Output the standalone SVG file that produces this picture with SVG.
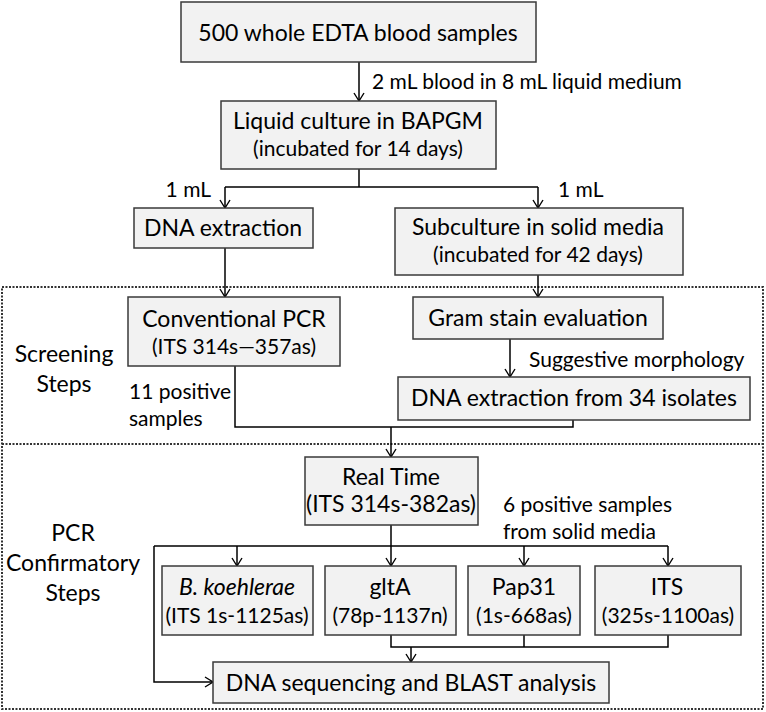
<svg xmlns="http://www.w3.org/2000/svg" width="766" height="712" viewBox="0 0 766 712">
<defs>
<marker id="ah" markerWidth="12" markerHeight="12" refX="10" refY="6" orient="auto" markerUnits="userSpaceOnUse">
<path d="M2,1 L10,6 L2,11" fill="none" stroke="#000" stroke-width="1.4"/>
</marker>
<style>
.box{fill:#f2f2f2;stroke:#3a3a3a;stroke-width:1.5}
.t{font-family:Lato,"Liberation Sans",sans-serif;font-size:23px;fill:#000;text-anchor:middle}
.s{font-size:21px}
.l{font-family:Lato,"Liberation Sans",sans-serif;font-size:21px;fill:#000}
.c{fill:none;stroke:#000;stroke-width:1.5}
.a{fill:none;stroke:#000;stroke-width:1.5;marker-end:url(#ah)}
.frame{fill:none;stroke:#333;stroke-width:2;stroke-dasharray:2 1.5}
</style>
</defs>
<rect width="766" height="712" fill="#fff"/>
<g id="frames">
<rect class="frame" x="2" y="287" width="761" height="422"/>
<line class="frame" x1="2" y1="444" x2="763" y2="444"/>
</g>
<g id="connectors">
<line class="a" x1="359" y1="62" x2="359" y2="101"/>
<path class="c" d="M359,169 V187 M225,187 H538"/>
<line class="a" x1="225" y1="187" x2="225" y2="208"/>
<line class="a" x1="538" y1="187" x2="538" y2="208"/>
<line class="a" x1="225" y1="248" x2="225" y2="297"/>
<line class="a" x1="538" y1="275" x2="538" y2="297"/>
<line class="a" x1="510" y1="339" x2="510" y2="377"/>
<path class="c" d="M235,366 V427 H573 V420"/>
<line class="a" x1="391" y1="427" x2="391" y2="457"/>
<path class="c" d="M391,525 V546 M154,546 H668"/>
<line class="a" x1="237" y1="546" x2="237" y2="566"/>
<line class="a" x1="391" y1="546" x2="391" y2="566"/>
<line class="a" x1="524" y1="546" x2="524" y2="566"/>
<line class="a" x1="668" y1="546" x2="668" y2="566"/>
<path class="a" d="M154,546 V682 H213"/>
<path class="c" d="M391,635 V647 H668 V635 M524,635 V647"/>
<line class="a" x1="411" y1="647" x2="411" y2="662"/>
<text class="l" x="372" y="89">2 mL blood in 8 mL liquid medium</text>
<text class="l" x="211" y="197" text-anchor="end" font-size="20">1 mL</text>
<text class="l" x="558" y="197" font-size="20">1 mL</text>
<text class="l" x="529" y="367">Suggestive morphology</text>
<text class="l" x="129" y="399">11 positive</text>
<text class="l" x="129" y="426">samples</text>
<text class="l" x="503" y="512">6 positive samples</text>
<text class="l" x="503" y="539">from solid media</text>
</g>
<g id="labels">
<text class="t" x="64" y="362">Screening</text>
<text class="t" x="64" y="392">Steps</text>
<text class="t" x="73" y="541">PCR</text>
<text class="t" x="73" y="571">Confirmatory</text>
<text class="t" x="73" y="601">Steps</text>
</g>
<g id="n1"><rect class="box" x="181" y="2" width="355" height="60"/><text class="t" x="358" y="41">500 whole EDTA blood samples</text></g>
<g id="n2"><rect class="box" x="221" y="101" width="275" height="68"/><text class="t" x="358" y="129">Liquid culture in BAPGM</text><text class="t s" x="358" y="156">(incubated for 14 days)</text></g>
<g id="n3"><rect class="box" x="134" y="208" width="179" height="40"/><text class="t" x="223" y="236">DNA extraction</text></g>
<g id="n4"><rect class="box" x="395" y="208" width="288" height="67"/><text class="t" x="538" y="235" font-size="23.5">Subculture in solid media</text><text class="t s" x="538" y="262">(incubated for 42 days)</text></g>
<g id="n5"><rect class="box" x="128" y="297" width="212" height="69"/><text class="t" x="234" y="327">Conventional PCR</text><text class="t s" x="234" y="354">(ITS 314s—357as)</text></g>
<g id="n6"><rect class="box" x="413" y="297" width="250" height="42"/><text class="t" x="538" y="326" font-size="23.5">Gram stain evaluation</text></g>
<g id="n7"><rect class="box" x="398" y="377" width="352" height="43"/><text class="t" x="574" y="406">DNA extraction from 34 isolates</text></g>
<g id="n8"><rect class="box" x="305" y="457" width="173" height="68"/><text class="t" x="391" y="485">Real Time</text><text class="t" x="391" y="512" font-size="19.5">(ITS 314s-382as)</text></g>
<g id="n9"><rect class="box" x="162" y="566" width="151" height="69"/><text class="t" x="237" y="595" font-style="italic" font-size="24.5">B. koehlerae</text><text class="t s" x="237" y="623">(ITS 1s-1125as)</text></g>
<g id="n10"><rect class="box" x="325" y="566" width="131" height="69"/><text class="t" x="390" y="595" font-size="22">gltA</text><text class="t s" x="390" y="623">(78p-1137n)</text></g>
<g id="n11"><rect class="box" x="468" y="566" width="112" height="69"/><text class="t" x="524" y="595">Pap31</text><text class="t s" x="524" y="623">(1s-668as)</text></g>
<g id="n12"><rect class="box" x="595" y="566" width="146" height="69"/><text class="t" x="667" y="595" font-size="22">ITS</text><text class="t s" x="668" y="623">(325s-1100as)</text></g>
<g id="n13"><rect class="box" x="213" y="662" width="396" height="41"/><text class="t" x="411" y="691">DNA sequencing and BLAST analysis</text></g>
</svg>
